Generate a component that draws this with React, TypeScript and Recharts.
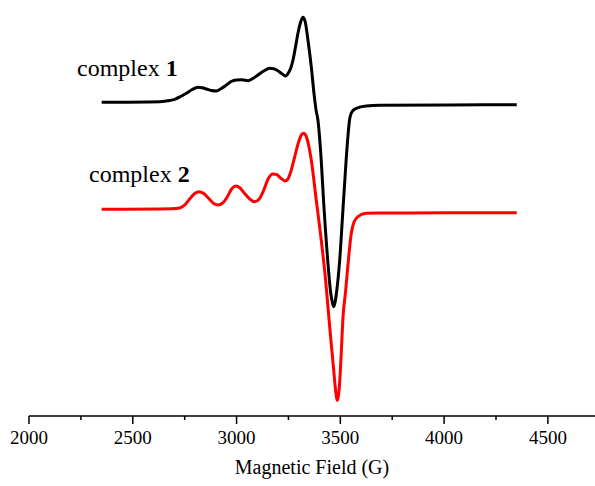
import { LineChart, Line, XAxis, YAxis } from "recharts";

// magnetic field (G) and signal (arb. units)
const field1 = [
  2350, 2630, 2678, 2702, 2731, 2758, 2786, 2814, 2834, 2855, 2878, 2903, 2926,
  2951, 2974, 2999, 3027, 3055, 3078, 3103, 3131, 3159, 3179, 3199, 3217, 3237,
  3251, 3263, 3272, 3284, 3296, 3309, 3320, 3331, 3344, 3360, 3373, 3383, 3392,
  3404, 3422, 3441, 3453, 3461, 3468, 3475, 3482, 3497, 3511, 3528, 3538, 3545,
  3552, 3561, 3577, 3625, 3689, 4027, 4350,
];
const signal1 = [
  313.7, 314.3, 315.5, 316.7, 319.5, 322.7, 326.5, 328.7, 328.2, 327, 325.5, 325, 327.5,
  331, 334.5, 336, 336.2, 335.3, 337.5, 341, 345, 347.7, 347.3, 345.3, 342.5, 340,
  343.5, 349, 356, 369, 383, 394, 398.7, 394, 376, 349.3, 322.7, 306, 296,
  268, 206, 151, 124, 114, 109.3, 114, 124, 156, 201, 256, 283, 297,
  302.5, 305.5, 307.7, 310, 310.7, 311, 311.3,
];

const field2 = [
  2350, 2630, 2687, 2726, 2755, 2774, 2798, 2819, 2842, 2866, 2890, 2910, 2933,
  2955, 2976, 2996, 3017, 3041, 3066, 3087, 3109, 3131, 3152, 3175, 3193, 3212,
  3234, 3246, 3261, 3280, 3299, 3314, 3323, 3335, 3347, 3360, 3384, 3408, 3429,
  3448, 3468, 3477, 3486, 3494, 3504, 3512, 3526, 3538, 3553, 3566, 3585, 3625,
  3689, 4027, 4350,
];
const signal2 = [
  206.7, 207, 207.2, 208, 212, 217, 222.5, 224.3, 222.5, 217.5, 212.5, 211, 213,
  219, 227, 230, 228, 222, 216.5, 214.3, 217, 226, 237, 242, 241.5, 238,
  235, 236.5, 244, 259, 274, 281.5, 282.7, 280, 271, 256, 216, 176, 136,
  91, 46, 26, 15.5, 26, 61, 96, 126, 154, 183, 194, 199.3, 202.7,
  203, 203.2, 203.3,
];

const fieldTicks = [2000, 2250, 2500, 2750, 3000, 3250, 3500, 3750, 4000, 4250, 4500];

const complex1 = field1.map((b, i) => ({ field: b, signal: signal1[i] }));
const complex2 = field2.map((b, i) => ({ field: b, signal: signal2[i] }));

const serif = "'Liberation Serif', 'Times New Roman', serif";

function FieldTick(props: any) {
  const { x, y, payload } = props;
  const major = payload.value % 500 === 0;
  return (
    <g>
      <line x1={x} x2={x} y1={y} y2={y + (major ? 8 : 4)} stroke="#000" strokeWidth={1.5} />
      {major && (
        <text x={x} y={y + 28} textAnchor="middle" fontFamily={serif} fontSize={19} fill="#000">
          {payload.value}
        </text>
      )}
    </g>
  );
}

export default function App() {
  return (
    <div style={{ position: "absolute", left: 0, top: 0, width: 595, height: 486, background: "#fff" }}>
      <LineChart width={595} height={486} margin={{ top: 0, right: 0, bottom: 0, left: 29 }}>
        <XAxis
          dataKey="field"
          type="number"
          domain={[2000, 4727]}
          ticks={fieldTicks}
          interval={0}
          allowDataOverflow
          height={70}
          tickSize={0}
          tickMargin={0}
          tickLine={false}
          tick={<FieldTick />}
          axisLine={{ stroke: "#000", strokeWidth: 1.5 }}
          label={{
            value: "Magnetic Field (G)",
            position: "insideBottom",
            offset: 12,
            fill: "#000",
            fontSize: 20,
            fontFamily: serif,
          }}
        />
        <YAxis type="number" domain={[0, 416]} hide />
        <Line
          data={complex1}
          dataKey="signal"
          type="monotone"
          stroke="#000"
          strokeWidth={3}
          dot={false}
          isAnimationActive={false}
        />
        <Line
          data={complex2}
          dataKey="signal"
          type="monotone"
          stroke="#ff0000"
          strokeWidth={3}
          dot={false}
          isAnimationActive={false}
        />
      </LineChart>
      <svg
        width={595}
        height={486}
        style={{ position: "absolute", left: 0, top: 0, pointerEvents: "none" }}
      >
        <text x={77} y={76} fontFamily={serif} fontSize={24} fill="#000">
          complex <tspan fontWeight="bold">1</tspan>
        </text>
        <text x={89} y={182} fontFamily={serif} fontSize={24} fill="#000">
          complex <tspan fontWeight="bold">2</tspan>
        </text>
      </svg>
    </div>
  );
}
